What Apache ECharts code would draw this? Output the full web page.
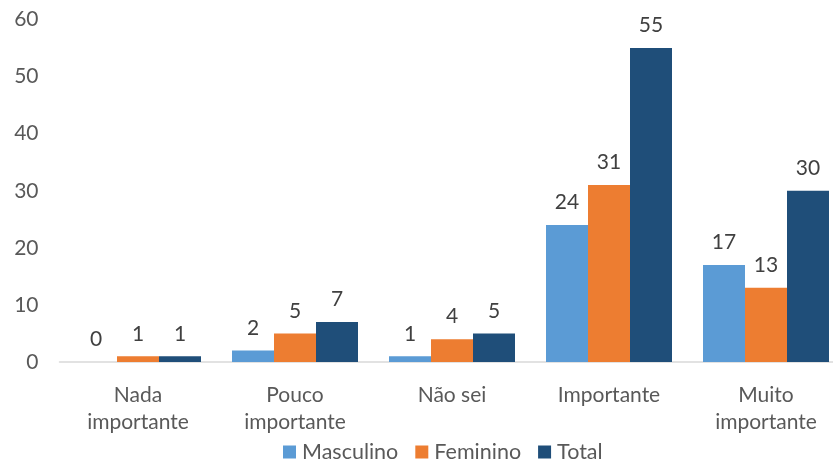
<!DOCTYPE html>
<html>
<head>
<meta charset="utf-8">
<script src="https://cdn.jsdelivr.net/npm/echarts@6/dist/echarts.min.js"></script>
<style>
  html, body { margin: 0; padding: 0; background: #fff; }
  #chart { width: 833px; height: 464px; }
</style>
</head>
<body>
<div id="chart"></div>
<script>
// categorias e valores
const categories = ['Nada\nimportante', 'Pouco\nimportante', 'Não sei', 'Importante', 'Muito\nimportante'];
const masculino = [0, 2, 1, 24, 17];
const feminino = [1, 5, 4, 31, 13];
const total = [1, 7, 5, 55, 30];
const yTicks = { min: 0, max: 60, interval: 10 };

const font = 'Lato, "Open Sans", sans-serif';

function barSeries(name, data, color) {
    return {
        name: name,
        type: 'bar',
        data: data,
        barWidth: 42,
        barGap: '0%',
        itemStyle: { color: color },
        label: {
            show: true,
            position: 'top',
            distance: 12,
            fontFamily: font,
            fontSize: 21,
            color: '#404040'
        }
    };
}

const chart = echarts.init(document.getElementById('chart'));
chart.setOption({
    animation: false,
    textStyle: { fontFamily: font },
    // o gráfico original está cortado à direita
    grid: { left: 59.5, width: 785, top: 19.5, bottom: 102, outerBoundsMode: 'none' },
    legend: {
        data: ['Masculino', 'Feminino', 'Total'],
        left: 283,
        top: 441,
        padding: 0,
        itemWidth: 13,
        itemHeight: 13,
        itemGap: 17,
        icon: 'rect',
        textStyle: { fontFamily: font, fontSize: 21.5, color: '#595959', padding: [0, 0, 0, 1] }
    },
    xAxis: {
        type: 'category',
        data: categories,
        axisLine: { lineStyle: { color: '#d9d9d9', width: 1.5 } },
        axisTick: { show: false },
        axisLabel: {
            interval: 0,
            margin: 20,
            fontFamily: font,
            fontSize: 21,
            lineHeight: 27,
            color: '#595959'
        }
    },
    yAxis: {
        type: 'value',
        min: yTicks.min,
        max: yTicks.max,
        interval: yTicks.interval,
        splitLine: { show: false },
        axisLine: { show: false },
        axisTick: { show: false },
        axisLabel: {
            margin: 21,
            fontFamily: font,
            fontSize: 21,
            color: '#595959'
        }
    },
    series: [
        barSeries('Masculino', masculino, '#5b9bd5'),
        barSeries('Feminino', feminino, '#ed7d31'),
        barSeries('Total', total, '#1f4e79')
    ]
});
</script>
</body>
</html>
